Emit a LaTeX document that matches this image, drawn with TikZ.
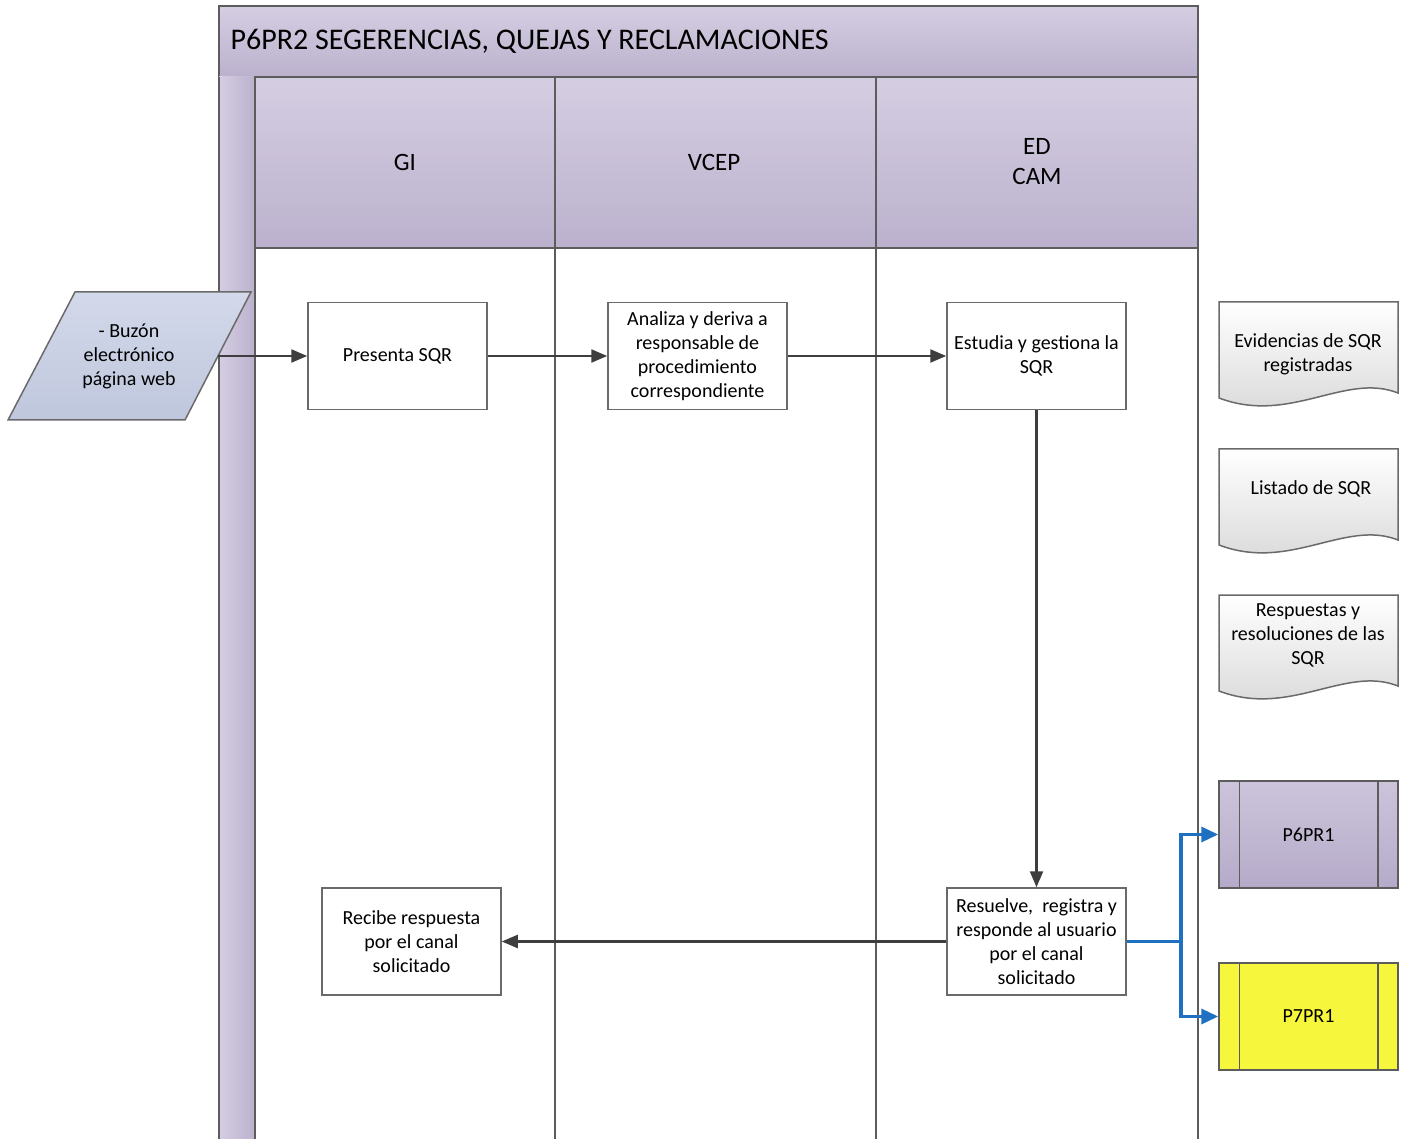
\documentclass[tikz,border=0pt]{standalone}
\usepackage{fontspec}
\setmainfont{Carlito}
\usetikzlibrary{arrows.meta}
\definecolor{laneTop}{HTML}{D5CEE2}
\definecolor{laneBot}{HTML}{BBB1CD}
\definecolor{procTop}{HTML}{CCC4DB}
\definecolor{procBot}{HTML}{B5ABC9}
\definecolor{edgeGray}{HTML}{5C5C5C}
\definecolor{boxGray}{HTML}{6A6A6A}
\definecolor{flowDark}{HTML}{3E3E3E}
\definecolor{flowBlue}{HTML}{1F70C1}
\definecolor{inTop}{HTML}{D3D9EA}
\definecolor{inBot}{HTML}{BFC7DD}
\definecolor{docBot}{HTML}{D6D6D6}
\definecolor{procYellow}{HTML}{F6F63C}
\begin{document}
\begin{tikzpicture}[x=1pt, y=-1pt, line join=miter,
  pool/.style={draw=edgeGray, line width=1.7pt},
  lanehead/.style={pool, top color=laneTop, bottom color=laneBot},
  boxtext/.style={font=\fontsize{20}{24}\selectfont, align=center},
  task/.style={boxtext, draw=boxGray, line width=1.5pt, fill=white,
    minimum width=179pt, minimum height=107pt, inner sep=0pt},
  docbox/.style={draw=boxGray, line width=1.5pt, top color=white, bottom color=docBot},
  subproc/.style={task, draw=edgeGray},
  flow/.style={->, >={Triangle[length=16pt, width=13pt]}, draw=flowDark, line width=2.3pt},
  bflow/.style={->, >={Triangle[length=17pt, width=15pt]}, draw=flowBlue, line width=3.5pt}]
  \useasboundingbox (0,0) rectangle (1409,1139);

  % Pool and lanes
  \draw[lanehead] (219,6) rectangle (1198,77);
  \node[anchor=west, font=\fontsize{30}{36}\selectfont] (title) at (227,41)
    {P6PR2 SEGERENCIAS, QUEJAS Y RECLAMACIONES};
  \fill[left color=laneTop, right color=laneBot] (219,77) rectangle (255,1139);
  \draw[pool] (219,77) -- (219,1139);
  \draw[lanehead] (255,77) rectangle (555,248);
  \draw[lanehead] (555,77) rectangle (876,248);
  \draw[lanehead] (876,77) rectangle (1198,248);
  \foreach \x in {255,555,876,1198}
    \draw[pool] (\x,248) -- (\x,1139);
  \node[font=\fontsize{25}{30}\selectfont] (gi) at (405,162) {GI};
  \node[font=\fontsize{25}{30}\selectfont] (vcep) at (714,162) {VCEP};
  \node[font=\fontsize{25}{30}\selectfont, align=center] (edcam) at (1037,162) {ED\\CAM};

  % Input
  \draw[draw=boxGray, line width=1.5pt, top color=inTop, bottom color=inBot]
    (75,292) -- (251,292) -- (185,420) -- (8,420) -- cycle;
  \node[boxtext] (buzon) at (129,356) {- Buzón\\electrónico\\página web};
  \coordinate (buzon-out) at (218,356);

  % Tasks
  \node[task] (presenta) at (397.5,356) {Presenta SQR};
  \node[task] (analiza) at (697.5,356) {Analiza y deriva a\\responsable de\\procedimiento\\correspondiente};
  \node[task] (estudia) at (1036.5,356) {Estudia y gestiona la\\SQR};
  \node[task] (resuelve) at (1036.5,941.5) {Resuelve,\ \ registra y\\responde al usuario\\por el canal\\solicitado};
  \node[task] (recibe) at (411.5,941.5) {Recibe respuesta\\por el canal\\solicitado};

  % Documents
  \foreach \dy in {0,147,293}
    \draw[docbox] (1219,{302+\dy}) -- (1398,{302+\dy}) -- (1398,{393+\dy})
      .. controls (1345,{372+\dy}) and (1290,{425+\dy}) .. (1219,{398+\dy}) -- cycle;
  \node[boxtext] (evid) at (1308,354) {Evidencias de SQR\\registradas};
  \node[boxtext] (listado) at (1311,489) {Listado de SQR};
  \node[boxtext] (resp) at (1308,635) {Respuestas y\\resoluciones de las\\SQR};

  % Linked processes
  \node[subproc, top color=procTop, bottom color=procBot] (p6) at (1308.5,834.5) {P6PR1};
  \node[subproc, fill=procYellow] (p7) at (1308.5,1016.5) {P7PR1};
  \foreach \p in {p6,p7} {
    \draw[draw=edgeGray, line width=1.5pt] ([xshift=21pt]\p.north west) -- ([xshift=21pt]\p.south west);
    \draw[draw=edgeGray, line width=1.5pt] ([xshift=-21pt]\p.north east) -- ([xshift=-21pt]\p.south east);
  }

  % Flow
  \draw[flow] (buzon-out) -- (presenta);
  \draw[flow] (presenta) -- (analiza);
  \draw[flow] (analiza) -- (estudia);
  \draw[flow] (estudia) -- (resuelve);
  \draw[flow] (resuelve) -- (recibe);
  \coordinate (split) at ([xshift=54pt]resuelve.east);
  \draw[bflow] (resuelve.east) -- (split) |- (p6.west);
  \draw[bflow] (split) |- (p7.west);
\end{tikzpicture}
\end{document}
